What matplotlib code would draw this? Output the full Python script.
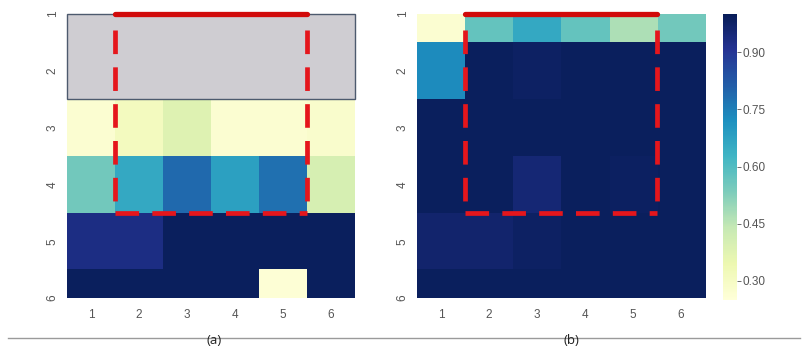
import numpy as np
import matplotlib
matplotlib.use("Agg")
import matplotlib.pyplot as plt
from matplotlib.patches import Rectangle
from matplotlib.lines import Line2D

# Heatmap values (rows 1..6 top to bottom, columns 1..6); NaN = not available
rows = [1, 2, 3, 4, 5, 6]
cols = [1, 2, 3, 4, 5, 6]

values_a = np.array([
    [np.nan] * 6,
    [np.nan] * 6,
    [0.27, 0.31, 0.38, 0.27, 0.27, 0.28],
    [0.55, 0.66, 0.79, 0.68, 0.78, 0.40],
    [0.93, 0.93, 0.99, 0.99, 0.99, 0.99],
    [0.99, 0.99, 0.99, 0.99, 0.26, 0.99],
])

values_b = np.array([
    [0.27, 0.57, 0.66, 0.57, 0.47, 0.55],
    [0.73, 0.99, 0.98, 0.99, 0.99, 0.99],
    [0.99, 0.99, 0.99, 0.99, 0.99, 0.99],
    [0.99, 0.99, 0.955, 0.99, 0.985, 0.99],
    [0.965, 0.965, 0.98, 0.99, 0.99, 0.99],
    [0.99, 0.99, 0.99, 0.99, 0.99, 0.99],
])

cbar_ticks = [0.30, 0.45, 0.60, 0.75, 0.90]
vmin, vmax = 0.25, 1.0
panel_labels = ["(a)", "(b)"]

# highlighted region: columns 2..5, rows 1..4
box_cols = (2, 5)
box_rows = (1, 4)

plt.rcParams["font.family"] = ["Liberation Sans", "DejaVu Sans"]
cmap = plt.get_cmap("YlGnBu")
W, H = 809, 354
fig = plt.figure(figsize=(W / 100, H / 100), dpi=100)


def px_axes(x0, y0, x1, y1):
    return fig.add_axes([x0 / W, 1 - y1 / H, (x1 - x0) / W, (y1 - y0) / H])


tick_color = "#555555"
dash_style = (0, (5.0, 2.8))


def draw_panel(ax, data, gray_rows=None):
    im = ax.imshow(data, cmap=cmap, vmin=vmin, vmax=vmax, aspect="auto",
                   interpolation="nearest",
                   extent=(cols[0] - 0.5, cols[-1] + 0.5, rows[-1] + 0.5, rows[0] - 0.5))
    ax.set_xlim(cols[0] - 0.5, cols[-1] + 0.5)
    ax.set_ylim(rows[-1], rows[0])
    ax.set_xticks(cols)
    ax.set_yticks(rows)
    ax.set_xticklabels([str(c) for c in cols])
    ax.set_yticklabels([str(r) for r in rows], rotation=90, va="center")
    ax.tick_params(axis="x", length=0, labelsize=8.5, colors=tick_color, pad=8)
    ax.tick_params(axis="y", length=0, labelsize=8.5, colors=tick_color, pad=6)
    for s in ax.spines.values():
        s.set_visible(False)
    if gray_rows is not None:
        r0, r1 = gray_rows
        ax.add_patch(Rectangle((cols[0] - 0.5, r0), len(cols), r1 + 0.5 - r0,
                               facecolor="#cfcdd2", edgecolor="#4d5a6e",
                               linewidth=1.0, zorder=3, clip_on=False))
    # highlight frame: solid top edge, dashed sides and bottom
    x0, x1 = box_cols[0] - 0.5, box_cols[1] + 0.5
    y0, y1 = box_rows[0], box_rows[1] + 0.5
    ax.add_line(Line2D([x0, x1], [y0, y0], color="#d10a0a", lw=3.8,
                       solid_capstyle="round", zorder=5, clip_on=False))
    dash_kw = dict(color="#e5161c", lw=3.4, linestyle=dash_style,
                   dash_capstyle="butt", zorder=5, clip_on=False)
    ax.add_line(Line2D([x0, x0], [y0 + 0.28, y1], **dash_kw))
    ax.add_line(Line2D([x1, x1], [y0 + 0.28, y1], **dash_kw))
    ax.add_line(Line2D([x0, x1], [y1, y1], **dash_kw))
    return im


ax_a = px_axes(67, 14, 355, 298)
draw_panel(ax_a, values_a, gray_rows=(1, 2))

ax_b = px_axes(417, 14, 705, 298)
im = draw_panel(ax_b, values_b)

cax = px_axes(723, 14, 737, 300)
cb = fig.colorbar(im, cax=cax, ticks=cbar_ticks)
cb.outline.set_visible(False)
cb.ax.set_yticklabels([f"{t:.2f}" for t in cbar_ticks])
cb.ax.tick_params(labelsize=8.5, colors=tick_color, length=3, width=0.6, pad=1)

# caption baseline and panel labels
fig.add_artist(Line2D([8 / W, 800 / W], [1 - 338 / H, 1 - 338 / H],
                      color="#9a9a9a", lw=1.0, transform=fig.transFigure))
fig.text(214 / W, 1 - 340 / H, panel_labels[0], ha="center", va="center",
         fontsize=9.5, color="#222222", family="Open Sans")
fig.text(571 / W, 1 - 340 / H, panel_labels[1], ha="center", va="center",
         fontsize=9.5, color="#222222", family="Open Sans")

fig.savefig("out.png", dpi=100)
